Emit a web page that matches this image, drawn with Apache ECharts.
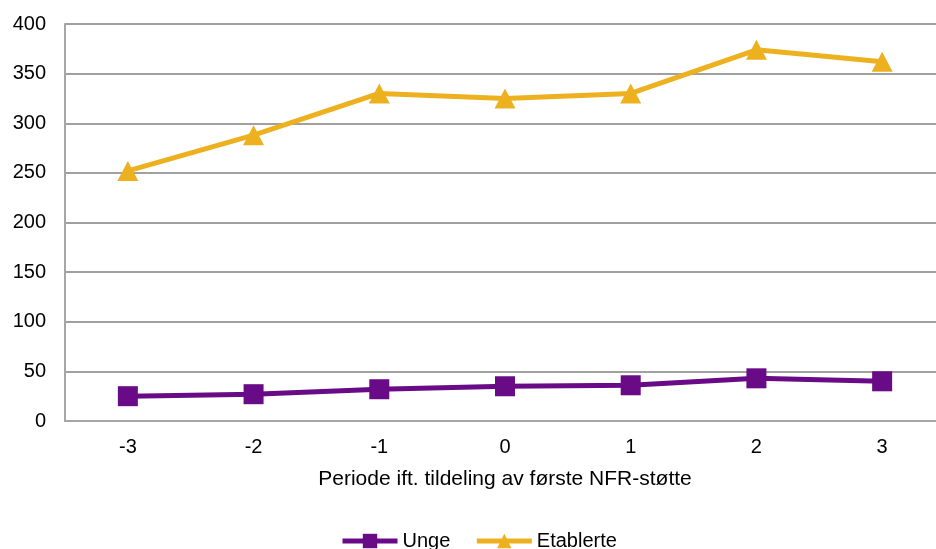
<!DOCTYPE html>
<html>
<head>
<meta charset="utf-8">
<script src="https://cdn.jsdelivr.net/npm/echarts@6/dist/echarts.min.js"></script>
<style>
  html, body { margin: 0; padding: 0; background: #ffffff; overflow: hidden; }
  #chart { width: 950px; height: 549px; }
</style>
</head>
<body>
<div id="chart"></div>
<script>
// Periods relative to the first NFR grant
const periods = ['-3', '-2', '-1', '0', '1', '2', '3'];
const unge = [25, 27, 32, 35, 36, 43, 40];
const etablerte = [252, 288, 330, 325, 330, 374, 362];
const yTicks = { min: 0, max: 400, interval: 50 };

const FONT = 'Liberation Sans, Arial, sans-serif';
const PURPLE = '#690A87';
const GOLD = '#EDB120';

const chart = echarts.init(document.getElementById('chart'), null, { renderer: 'canvas' });

chart.setOption({
  animation: false,
  backgroundColor: '#ffffff',
  textStyle: { fontFamily: FONT },
  // plot area runs past the right edge of the visible page
  grid: { left: 65, top: 24, right: 5, bottom: 128, containLabel: false },
  xAxis: {
    type: 'category',
    data: periods,
    boundaryGap: true,
    name: 'Periode ift. tildeling av første NFR-støtte',
    nameLocation: 'middle',
    nameGap: 48,
    nameTextStyle: { fontSize: 21, color: '#000', fontFamily: FONT },
    axisLine: { lineStyle: { color: '#a6a6a6', width: 2 } },
    axisTick: { show: false },
    axisLabel: { fontSize: 20, color: '#000', margin: 16, fontFamily: FONT },
    splitLine: { show: false }
  },
  yAxis: {
    type: 'value',
    min: yTicks.min,
    max: yTicks.max,
    interval: yTicks.interval,
    axisLine: { show: true, lineStyle: { color: '#a6a6a6', width: 2 } },
    axisTick: { show: false },
    axisLabel: { fontSize: 20, color: '#000', margin: 19, fontFamily: FONT },
    splitLine: { lineStyle: { color: '#a0a0a0', width: 2 } }
  },
  legend: {
    left: 335,
    top: 526,
    itemWidth: 55,
    itemHeight: 18,
    itemGap: 24,
    lineStyle: { width: 5 },
    textStyle: { fontSize: 20, color: '#000', fontFamily: FONT },
    data: ['Unge', 'Etablerte']
  },
  series: [
    {
      name: 'Unge',
      type: 'line',
      data: unge,
      symbol: 'rect',
      symbolSize: 20,
      lineStyle: { color: PURPLE, width: 5 },
      itemStyle: { color: PURPLE }
    },
    {
      name: 'Etablerte',
      type: 'line',
      data: etablerte,
      symbol: 'triangle',
      symbolSize: [21, 20],
      lineStyle: { color: GOLD, width: 5 },
      itemStyle: { color: GOLD }
    }
  ]
});
</script>
</body>
</html>
